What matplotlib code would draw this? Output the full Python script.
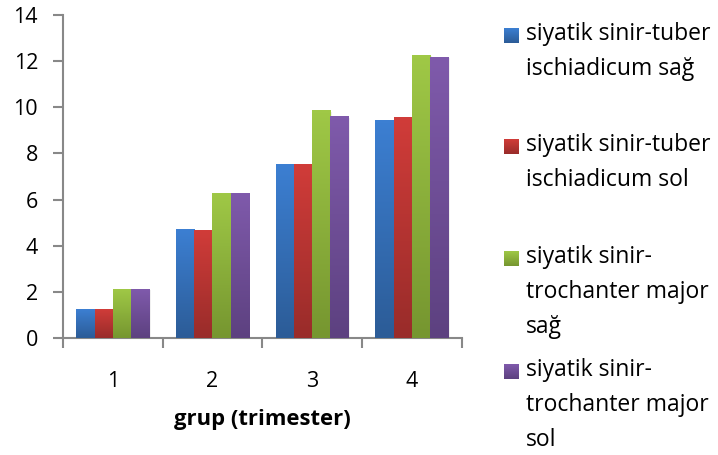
import numpy as np
import matplotlib
matplotlib.use("Agg")
import matplotlib.pyplot as plt
from matplotlib.colors import LinearSegmentedColormap
from matplotlib.patches import Rectangle

groups = ["1", "2", "3", "4"]
series_labels = [
    "siyatik sinir-tuber\nischiadicum sağ",
    "siyatik sinir-tuber\nischiadicum sol",
    "siyatik sinir-\ntrochanter major\nsağ",
    "siyatik sinir-\ntrochanter major\nsol",
]
tuber_sag = [1.25, 4.71, 7.51, 9.41]
tuber_sol = [1.25, 4.66, 7.51, 9.54]
trochanter_sag = [2.12, 6.26, 9.84, 12.26]
trochanter_sol = [2.12, 6.26, 9.58, 12.17]
yticks = [0, 2, 4, 6, 8, 10, 12, 14]

series = [tuber_sag, tuber_sol, trochanter_sag, trochanter_sol]
# (top colour, bottom colour) for each series
shades = [
    ("#3c7fd2", "#2c5c97"),
    ("#d03c39", "#992c2a"),
    ("#9fc846", "#769630"),
    ("#7f5aab", "#5d4180"),
]

plt.rcParams["font.family"] = ["Open Sans", "DejaVu Sans"]

fig = plt.figure(figsize=(7.18, 4.55), dpi=100)
ax = fig.add_axes([0.0877, 0.257, 0.5553, 0.710])

x = np.arange(len(groups))
width = 0.183
for i, (vals, (top, bottom)) in enumerate(zip(series, shades)):
    xs = x + (i - 1.5) * width
    bars = ax.bar(xs, vals, width, color=top, linewidth=0, zorder=2)
    cmap = LinearSegmentedColormap.from_list("g%d" % i, [bottom, top])
    grad = np.linspace(1, 0, 64).reshape(-1, 1)
    for b in bars:
        bx, by = b.get_x(), b.get_y()
        bw, bh = b.get_width(), b.get_height()
        # soft shadow to the right of each bar
        ax.add_patch(Rectangle((bx + 0.015, by), bw, bh - 0.05, color="#000000",
                               alpha=0.06, linewidth=0, zorder=1))
        ax.imshow(grad, extent=[bx, bx + bw, by, by + bh], aspect="auto",
                  cmap=cmap, zorder=3, interpolation="bilinear")

ax.set_xlim(-0.5, 3.5)
ax.set_ylim(0, 14)
ax.set_yticks(yticks)
ax.set_yticklabels([str(t) for t in yticks], fontsize=15.5)

ax.set_xticks(x)
ax.set_xticklabels(groups, fontsize=15.5)
ax.set_xticks(np.arange(-0.5, 4.0, 1.0), minor=True)
ax.tick_params(axis="x", which="major", length=0, pad=24)
ax.tick_params(axis="x", which="minor", length=7, width=1.5, color="#888888")
ax.tick_params(axis="y", length=7, width=1.5, color="#888888", pad=11)

for side in ["top", "right"]:
    ax.spines[side].set_visible(False)
for side in ["left", "bottom"]:
    ax.spines[side].set_color("#888888")
    ax.spines[side].set_linewidth(1.5)

ax.set_xlabel("grup (trimester)", fontsize=15.8, fontweight="bold", labelpad=12)

# legend drawn by hand: square swatch plus wrapped text
legend_y = [35, 146, 258, 371]
for lab, (top, bottom), ly in zip(series_labels, shades, legend_y):
    fy = 1 - ly / 455
    sw = fig.add_axes([504 / 718, fy - 8 / 455, 15 / 718, 15 / 455])
    sw.imshow(np.linspace(1, 0, 32).reshape(-1, 1), aspect="auto",
              cmap=LinearSegmentedColormap.from_list("s", [bottom, top]))
    sw.axis("off")
    fig.text(526 / 718, fy + 13 / 455, lab, fontsize=16.5, va="top", ha="left",
             linespacing=1.62, color="#000000")

fig.savefig("out.png", dpi=100)
